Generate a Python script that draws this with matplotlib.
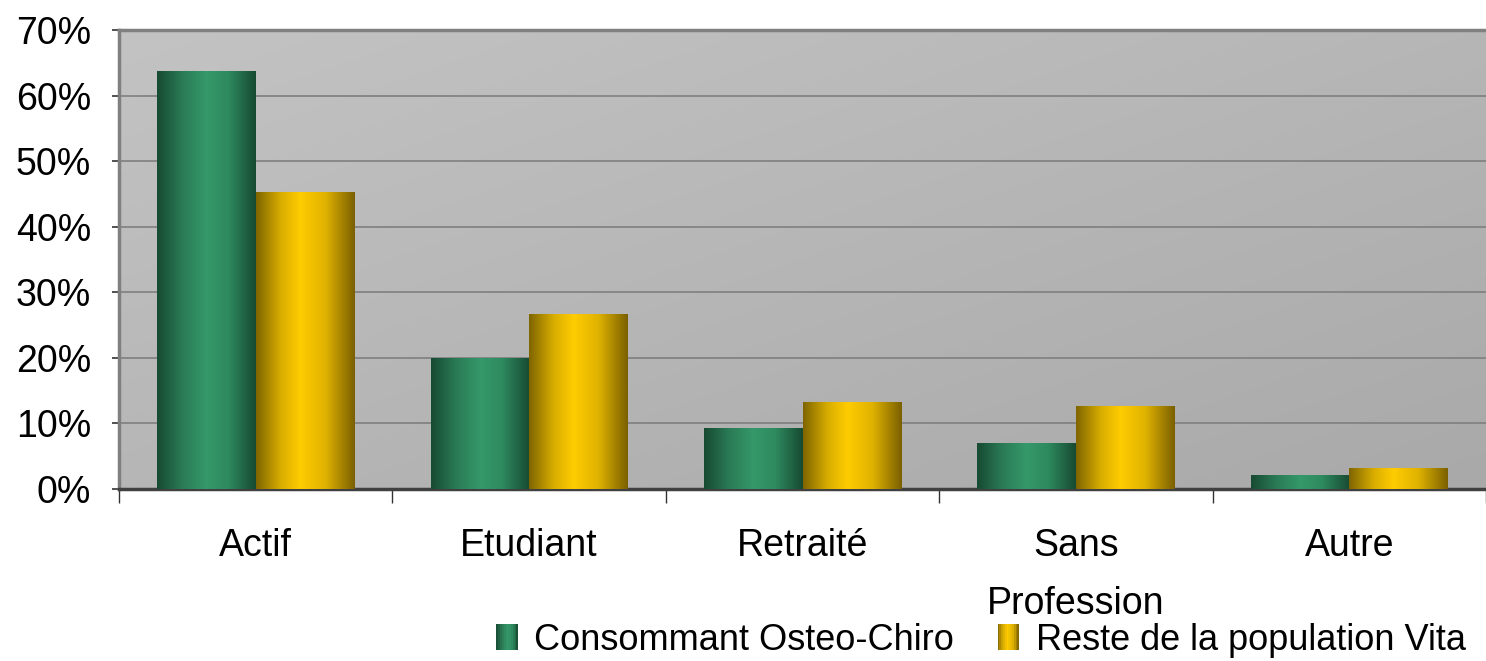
import numpy as np
import matplotlib
matplotlib.use("Agg")
import matplotlib.pyplot as plt
from matplotlib.colors import LinearSegmentedColormap
from matplotlib.patches import Rectangle
from matplotlib.legend_handler import HandlerBase
from matplotlib.ticker import FixedLocator, PercentFormatter

categories = ["Actif", "Etudiant", "Retraité", "Sans\nProfession", "Autre"]
series_names = ["Consommant Osteo-Chiro", "Reste de la population Vita"]
osteo = [63.6, 19.9, 9.3, 7.0, 2.0]
reste = [45.2, 26.6, 13.2, 12.6, 3.2]
yticks = [0, 10, 20, 30, 40, 50, 60, 70]

plt.rcParams['font.family'] = ['Liberation Sans', 'DejaVu Sans']

fig = plt.figure(figsize=(14.86, 6.61), dpi=100)
ax = fig.add_axes([119/1486, 1-489/661, 1-119/1486, (489-30)/661])

# background gradient
bg = np.linspace(0, 1, 256)
X, Y = np.meshgrid(bg, bg)
g = 0.5*X + 0.5*(1-Y)
bgcmap = LinearSegmentedColormap.from_list("bg", ["#c3c3c3", "#a9a9a9"])
ax.imshow(g, cmap=bgcmap, extent=(0, 1, 0, 1), transform=ax.transAxes,
          aspect='auto', zorder=0, origin='lower')

green_cmap = LinearSegmentedColormap.from_list(
    "g", [(0, "#174a32"), (0.25, "#2a7a55"), (0.5, "#35996a"), (0.72, "#2e8a5f"), (1, "#174a32")])
yellow_cmap = LinearSegmentedColormap.from_list(
    "y", [(0, "#7f6500"), (0.25, "#d8ad00"), (0.45, "#ffcc00"), (0.7, "#e0b300"), (1, "#7a6000")])

x = np.arange(len(categories))
w = 0.36
b1 = ax.bar(x - w/2, osteo, w, zorder=2, facecolor='none', edgecolor='none')
b2 = ax.bar(x + w/2, reste, w, zorder=2, facecolor='none', edgecolor='none')

grad = np.linspace(0, 1, 256).reshape(1, -1)
for bars, cmap in ((b1, green_cmap), (b2, yellow_cmap)):
    for p in bars:
        x0, y0 = p.get_x(), p.get_y()
        ax.imshow(grad, cmap=cmap, extent=(x0, x0 + p.get_width(), y0, y0 + p.get_height()),
                  aspect='auto', zorder=3)

ax.set_xlim(-0.5, len(categories) - 0.5)
ax.set_ylim(0, 70)

ax.yaxis.set_major_locator(FixedLocator(yticks))
ax.yaxis.set_major_formatter(PercentFormatter(decimals=0))
ax.grid(axis='y', color='#7f7f7f', linewidth=1.2, zorder=1)
ax.set_axisbelow(True)

ax.set_xticks(x)
ax.set_xticklabels(categories, fontsize=27, linespacing=1.8, va='top')
ax.set_xticks(np.arange(len(categories) + 1) - 0.5, minor=True)
ax.tick_params(axis='x', which='major', length=0, pad=28)
ax.tick_params(axis='x', which='minor', length=10, width=1, color='#333333')
ax.tick_params(axis='y', which='major', length=5, width=1.2, color='#333333', labelsize=27, pad=15)

for s in ['left', 'top']:
    ax.spines[s].set_color('#808080')
    ax.spines[s].set_linewidth(2.5)
ax.spines['bottom'].set_color('#404040')
ax.spines['bottom'].set_linewidth(2.5)
ax.spines['right'].set_visible(False)


class GradHandler(HandlerBase):
    def __init__(self, cmap):
        super().__init__()
        self.cmap = cmap

    def create_artists(self, legend, orig_handle, xdescent, ydescent, width, height, fontsize, trans):
        n = 12
        arts = []
        for i in range(n):
            c = self.cmap((i + 0.5) / n)
            r = Rectangle((-xdescent + width * i / n, -ydescent), width / n * 1.05, height,
                          facecolor=c, edgecolor='none', transform=trans)
            arts.append(r)
        return arts


h1 = Rectangle((0, 0), 1, 1, facecolor='#2a7f57')
h2 = Rectangle((0, 0), 1, 1, facecolor='#e6b800')
fig.legend([h1, h2], series_names, loc='center', bbox_to_anchor=(981/1486, 1-640/661),
           ncol=2, frameon=False, fontsize=26, handlelength=0.6, handleheight=0.7,
           handletextpad=0.45, columnspacing=1.2, borderaxespad=0, borderpad=0,
           handler_map={h1: GradHandler(green_cmap), h2: GradHandler(yellow_cmap)})

fig.savefig("out.png", dpi=100)
